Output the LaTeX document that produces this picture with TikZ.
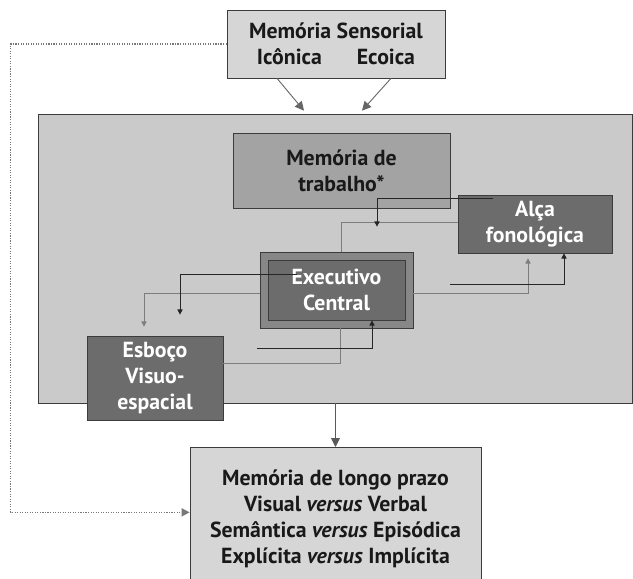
\documentclass[tikz,border=0pt]{standalone}
\usepackage{fontspec}
\setmainfont{PT Sans}
\usetikzlibrary{arrows.meta,calc}
\definecolor{wmgray}{RGB}{202,202,202}
\definecolor{lightbox}{RGB}{214,214,214}
\definecolor{midbox}{RGB}{163,163,163}
\definecolor{darkbox}{RGB}{108,108,108}
\definecolor{execouter}{RGB}{135,135,135}
\definecolor{edgegray}{RGB}{60,60,60}
\definecolor{linkgray}{RGB}{125,125,125}
\definecolor{dotgray}{RGB}{120,120,120}

\begin{document}
\begin{tikzpicture}[x=0.5mm,y=-0.5mm,
    box/.style={draw=edgegray, line width=1pt, align=center, inner sep=0pt,
      font=\fontsize{31}{37}\selectfont\bfseries},
    lightbx/.style={box, fill=lightbox, text=black!90},
    darkbx/.style={box, fill=darkbox, text=white},
    darklink/.style={draw=black!85, line width=1.3pt, -{Triangle[length=2.6mm,width=2.6mm]}},
    graylink/.style={draw=linkgray, line width=1pt},
    grayarrow/.style={graylink, -{Triangle[length=2.6mm,width=2.6mm]}},
    sensarrow/.style={draw=black!60, line width=1.3pt, -{Triangle[length=4.5mm,width=4.5mm]}},
    dotline/.style={draw=dotgray, line width=2.2pt, dash pattern=on 1.6pt off 2pt,
      -{Triangle[length=4mm,width=4mm]}}]
    \useasboundingbox (0,0) rectangle (633,579);
    \clip (0,0) rectangle (633,579);

    % Working memory area
    \node[box, fill=wmgray, minimum width=297mm, minimum height=144.5mm] (wm) at (335,258.5) {};

    % Boxes
    \node[lightbx, minimum width=109mm, minimum height=34mm] (sens) at (336,44)
      {Memória Sensorial\\Icônica\hspace{1.6em}Ecoica};
    \node[box, fill=midbox, text=black!90, minimum width=108.5mm, minimum height=37.5mm] (trab) at (341.5,170.5)
      {Memória de\\trabalho*};
    \node[darkbx, minimum width=77mm, minimum height=29mm] (alca) at (535,224)
      {Alça\\fonológica};
    \node[box, fill=execouter, minimum width=76.5mm, minimum height=38mm] (exec) at (336.5,290) {};
    \node[darkbx, minimum width=68.5mm, minimum height=30mm] (execin) at (336.5,290)
      {Executivo\\Central};
    \node[darkbx, minimum width=68mm, minimum height=42mm] (esb) at (155,378)
      {Esboço\\Visuo-\\espacial};
    \node[lightbx, anchor=north, minimum width=145.5mm, minimum height=71mm] (ltm) at (335.5,447)
      {Memória de longo prazo\\Visual \textit{versus} Verbal\\Semântica \textit{versus} Episódica\\Explícita \textit{versus} Implícita};

    % Sensory input
    \draw[sensarrow] ($(sens.south)+(-59,0)$) -- ($(wm.north)+(-31,-3)$);
    \draw[sensarrow] ($(sens.south)+(55,0)$) -- ($(wm.north)+(27,-3)$);
    \draw[dotline] (sens.west) -| ($(ltm.west)+(-179,-6)$) -- ($(ltm.west)+(0,-6)$);

    % Links around the central executive
    \draw[graylink] ($(alca.west)+(0,-2)$) -| ($(exec.north)+(4.5,0)$);
    \draw[darklink] ($(alca.north west)+(35,4)$) -| ($(exec.north)+(40.5,-25)$);
    \draw[grayarrow] ($(exec.west)+(0,3)$) -| ($(esb.north)+(-11,-9)$);
    \draw[darklink] ($(execin.west)+(29,-16)$) -| ($(esb.north)+(25,-21)$);
    \draw[graylink] ($(esb.east)+(0,-15)$) -| ($(exec.south)+(3.5,0)$);
    \draw[darklink] ($(esb.east)+(34,-30)$) -| ($(execin.south)+(35.5,0)$);
    \draw[grayarrow] ($(exec.east)+(0,3)$) -| ($(alca.south)+(-7,5)$);
    \draw[darklink] ($(exec.east)+(37,-6)$) -| ($(alca.south)+(29,0)$);

    % To long-term memory
    \draw[draw=black!65, line width=1.3pt, -{Triangle[length=4.5mm,width=4.5mm]}] (wm.south -| ltm.north) -- (ltm.north);
\end{tikzpicture}
\end{document}
